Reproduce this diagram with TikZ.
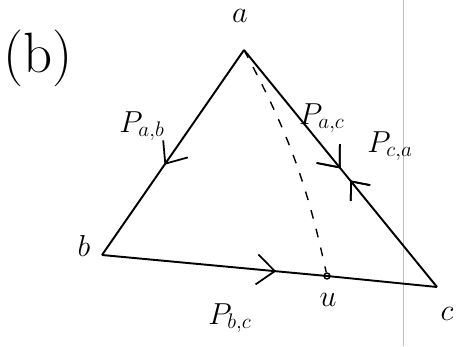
\documentclass[tikz,border=0pt]{standalone}
\usepackage{amsmath}
\usetikzlibrary{arrows.meta,positioning,decorations.markings}
\begin{document}
\begin{tikzpicture}[
side/.style={line width=1.1pt},
midarr/.style={postaction={decorate},decoration={markings,mark=at position #1 with {\arrow{Straight Barb[length=3.6mm,width=6mm,line width=1pt]}}}},
backarr/.style={postaction={decorate},decoration={markings,mark=at position #1 with {\arrowreversed{Straight Barb[length=3mm,width=5mm,line width=1pt]}}}},
lbl/.style={font=\LARGE,inner sep=1pt}
]
\useasboundingbox (0,0) rectangle (9.32,6.92);
\draw[gray!50,very thin] (8.06,0) -- (8.06,6.92);
\coordinate (a) at (4.88,5.92);
\coordinate (b) at (2.04,1.82);
\coordinate (c) at (8.74,1.18);
\node[circle,draw,fill=white,inner sep=1.2pt,line width=0.8pt] (u) at (6.54,1.40) {};
\node[font=\Huge,scale=1.3] (tag) at (0.76,5.76) {(b)};
\node[lbl] (la) at (4.80,6.60) {$a$};
\node[lbl] (lb) at (1.68,2.00) {$b$};
\node[lbl] (lc) at (8.94,0.64) {$c$};
\node[lbl] (lu) at (6.56,0.92) {$u$};
\node[lbl] (pab) at (2.84,4.40) {$P_{a,b}$};
\node[lbl] (pac) at (6.44,4.56) {$P_{a,c}$};
\node[lbl] (pca) at (7.80,4.00) {$P_{c,a}$};
\node[lbl] (pbc) at (4.60,0.56) {$P_{b,c}$};
\draw[side,midarr=0.56] (a) -- (b);
\draw[side,midarr=0.5,backarr=0.55] (a) -- (c);
\draw[side,midarr=0.52] (b) -- (u.center) -- (c);
\draw[dashed,line width=0.8pt,dash pattern=on 5pt off 6pt] (a) to[bend left=8] (u);
\end{tikzpicture}
\end{document}
